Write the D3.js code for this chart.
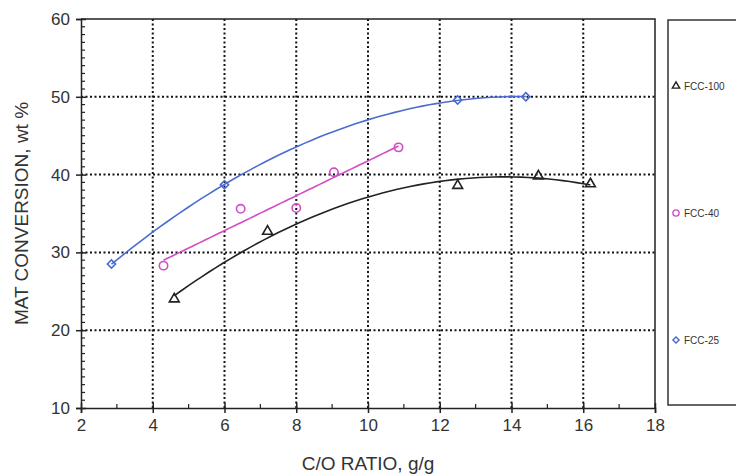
<!DOCTYPE html>
<html>
<head>
<meta charset="utf-8">
<script src="https://cdn.jsdelivr.net/npm/d3@7"></script>
<style>
  body { margin: 0; background: #fff; }
  text { font-family: "Liberation Sans", Arial, sans-serif; fill: #333; }
</style>
</head>
<body>
<div id="chart"></div>
<script>
const FRAME_WIDTH = 736;
const FRAME_HEIGHT = 474;
const MARGINS = {left: 81, right: 81, top: 19, bottom: 66};

const VIS_WIDTH = FRAME_WIDTH - MARGINS.left - MARGINS.right;
const VIS_HEIGHT = FRAME_HEIGHT - MARGINS.top - MARGINS.bottom;

// data
const FCC100_X = [4.6, 7.2, 12.5, 14.75, 16.2];
const FCC100_Y = [24.0, 32.7, 38.6, 39.8, 38.8];
const FCC40_X = [4.3, 6.45, 8.0, 9.05, 10.85];
const FCC40_Y = [28.3, 35.6, 35.7, 40.3, 43.5];
const FCC25_X = [2.85, 6.0, 12.5, 14.4];
const FCC25_Y = [28.5, 38.7, 49.6, 50.0];

const X_TICKS = [2, 4, 6, 8, 10, 12, 14, 16, 18];
const Y_TICKS = [10, 20, 30, 40, 50, 60];
const SERIES_NAMES = ["FCC-100", "FCC-40", "FCC-25"];

// least squares polynomial fit (trendline), order 1 or 2
function polyFit(xs, ys, order) {
  const n = order + 1;
  let A = [];
  for (let i = 0; i < n; i++) {
    A.push([]);
    for (let j = 0; j < n; j++) {
      A[i].push(d3.sum(xs, (x) => Math.pow(x, i + j)));
    }
    A[i].push(d3.sum(xs, (x, k) => Math.pow(x, i) * ys[k]));
  }
  // gauss elimination
  for (let i = 0; i < n; i++) {
    for (let k = i + 1; k < n; k++) {
      let f = A[k][i] / A[i][i];
      for (let j = i; j <= n; j++) A[k][j] -= f * A[i][j];
    }
  }
  let c = new Array(n).fill(0);
  for (let i = n - 1; i >= 0; i--) {
    let s = A[i][n];
    for (let j = i + 1; j < n; j++) s -= A[i][j] * c[j];
    c[i] = s / A[i][i];
  }
  return (x) => d3.sum(c, (ci, i) => ci * Math.pow(x, i));
}

// rotate: diamonds are squares turned 45 degrees
const SERIES = [
  {name: SERIES_NAMES[0], xs: FCC100_X, ys: FCC100_Y, order: 2, color: "#222222", shape: d3.symbolTriangle, size: 42, rot: 0},
  {name: SERIES_NAMES[1], xs: FCC40_X, ys: FCC40_Y, order: 1, color: "#d24cc4", shape: d3.symbolCircle, size: 55, rot: 0},
  {name: SERIES_NAMES[2], xs: FCC25_X, ys: FCC25_Y, order: 2, color: "#4a6cd0", shape: d3.symbolSquare, size: 34, rot: 45}
];

const X_SCALE = d3.scaleLinear().domain([2, 18]).range([0, VIS_WIDTH]);
const Y_SCALE = d3.scaleLinear().domain([10, 60]).range([VIS_HEIGHT, 0]);

const SVG = d3.select("#chart")
  .append("svg")
    .attr("width", FRAME_WIDTH)
    .attr("height", FRAME_HEIGHT);

const G = SVG.append("g")
  .attr("transform", "translate(" + MARGINS.left + "," + MARGINS.top + ")");

// dotted grid
G.append("g")
  .selectAll("line")
  .data(X_TICKS.slice(1, -1))
  .enter()
  .append("line")
    .attr("x1", (d) => X_SCALE(d))
    .attr("x2", (d) => X_SCALE(d))
    .attr("y1", 0)
    .attr("y2", VIS_HEIGHT)
    .attr("stroke", "#111")
    .attr("stroke-width", 2)
    .attr("stroke-dasharray", "2,2.5");

G.append("g")
  .selectAll("line")
  .data(Y_TICKS.slice(1, -1))
  .enter()
  .append("line")
    .attr("x1", 0)
    .attr("x2", VIS_WIDTH)
    .attr("y1", (d) => Y_SCALE(d))
    .attr("y2", (d) => Y_SCALE(d))
    .attr("stroke", "#111")
    .attr("stroke-width", 2)
    .attr("stroke-dasharray", "2,2.5");

// frame top and right
G.append("path")
  .attr("d", "M0,0H" + VIS_WIDTH + "V" + VIS_HEIGHT)
  .attr("fill", "none")
  .attr("stroke", "#222")
  .attr("stroke-width", 1.5);

// minor ticks
const X_MINOR = d3.range(3, 18, 2);
const Y_MINOR = d3.range(11, 60).filter((d) => d % 10 != 0);

G.append("g")
  .selectAll("line")
  .data(X_MINOR)
  .enter()
  .append("line")
    .attr("x1", (d) => X_SCALE(d))
    .attr("x2", (d) => X_SCALE(d))
    .attr("y1", VIS_HEIGHT)
    .attr("y2", VIS_HEIGHT - 4)
    .attr("stroke", "#222")
    .attr("stroke-width", 1.2);

G.append("g")
  .selectAll("line")
  .data(Y_MINOR)
  .enter()
  .append("line")
    .attr("x1", 0)
    .attr("x2", 4)
    .attr("y1", (d) => Y_SCALE(d))
    .attr("y2", (d) => Y_SCALE(d))
    .attr("stroke", "#222")
    .attr("stroke-width", 1.2);

// axes
const X_AXIS = G.append("g")
  .attr("transform", "translate(0," + VIS_HEIGHT + ")")
  .call(d3.axisBottom(X_SCALE).tickValues(X_TICKS).tickSize(5).tickPadding(6));

const Y_AXIS = G.append("g")
  .call(d3.axisLeft(Y_SCALE).tickValues(Y_TICKS).tickSize(5).tickPadding(6));

[X_AXIS, Y_AXIS].forEach((ax) => {
  ax.select(".domain").attr("stroke", "#222").attr("stroke-width", 1.5);
  ax.selectAll(".tick line").attr("stroke", "#222").attr("stroke-width", 1.5);
  ax.selectAll(".tick text")
    .attr("font-size", "17px")
    .attr("fill", "#333")
    .attr("font-family", "'Liberation Sans', Arial, sans-serif");
});
// major ticks cross the axis
X_AXIS.selectAll(".tick line").attr("y1", -5);
Y_AXIS.selectAll(".tick line").attr("x1", 5);

// trendlines and points
SERIES.forEach((s) => {
  const f = polyFit(s.xs, s.ys, s.order);
  const xmin = d3.min(s.xs), xmax = d3.max(s.xs);
  const fitPts = d3.range(0, 61).map((i) => {
    const x = xmin + (xmax - xmin) * i / 60;
    return [x, f(x)];
  });
  G.append("path")
    .datum(fitPts)
    .attr("fill", "none")
    .attr("stroke", s.color)
    .attr("stroke-width", 1.6)
    .attr("d", d3.line().x((d) => X_SCALE(d[0])).y((d) => Y_SCALE(d[1])));

  G.append("g")
    .selectAll("path")
    .data(s.xs.map((x, i) => [x, s.ys[i]]))
    .enter()
    .append("path")
      .attr("transform", (d) => "translate(" + X_SCALE(d[0]) + "," + Y_SCALE(d[1]) + ") rotate(" + s.rot + ")")
      .attr("d", d3.symbol().type(s.shape).size(s.size))
      .attr("fill", "none")
      .attr("stroke", s.color)
      .attr("stroke-width", 1.6);
});

// axis titles
SVG.append("text")
  .attr("x", MARGINS.left + VIS_WIDTH / 2)
  .attr("y", 470)
  .attr("text-anchor", "middle")
  .attr("font-size", "19px")
  .text("C/O RATIO, g/g");

SVG.append("text")
  .attr("transform", "translate(28," + (MARGINS.top + VIS_HEIGHT / 2) + ") rotate(-90)")
  .attr("text-anchor", "middle")
  .attr("font-size", "19px")
  .text("MAT CONVERSION, wt %");

// legend box
const LEGEND = SVG.append("g");
LEGEND.append("rect")
  .attr("x", 668)
  .attr("y", 20)
  .attr("width", 100)
  .attr("height", 385)
  .attr("fill", "#fff")
  .attr("stroke", "#333")
  .attr("stroke-width", 1.5);

const LEGEND_Y = d3.scalePoint().domain(SERIES_NAMES).range([86, 340]);

SERIES.forEach((s) => {
  LEGEND.append("path")
    .attr("transform", "translate(676," + LEGEND_Y(s.name) + ") rotate(" + s.rot + ")")
    .attr("d", d3.symbol().type(s.shape).size(s.size * 0.55))
    .attr("fill", "none")
    .attr("stroke", s.color)
    .attr("stroke-width", 1.4);
  LEGEND.append("text")
    .attr("x", 684)
    .attr("y", LEGEND_Y(s.name) + 3.5)
    .attr("font-size", "10px")
    .attr("fill", "#333")
    .text(s.name);
});
</script>
</body>
</html>
